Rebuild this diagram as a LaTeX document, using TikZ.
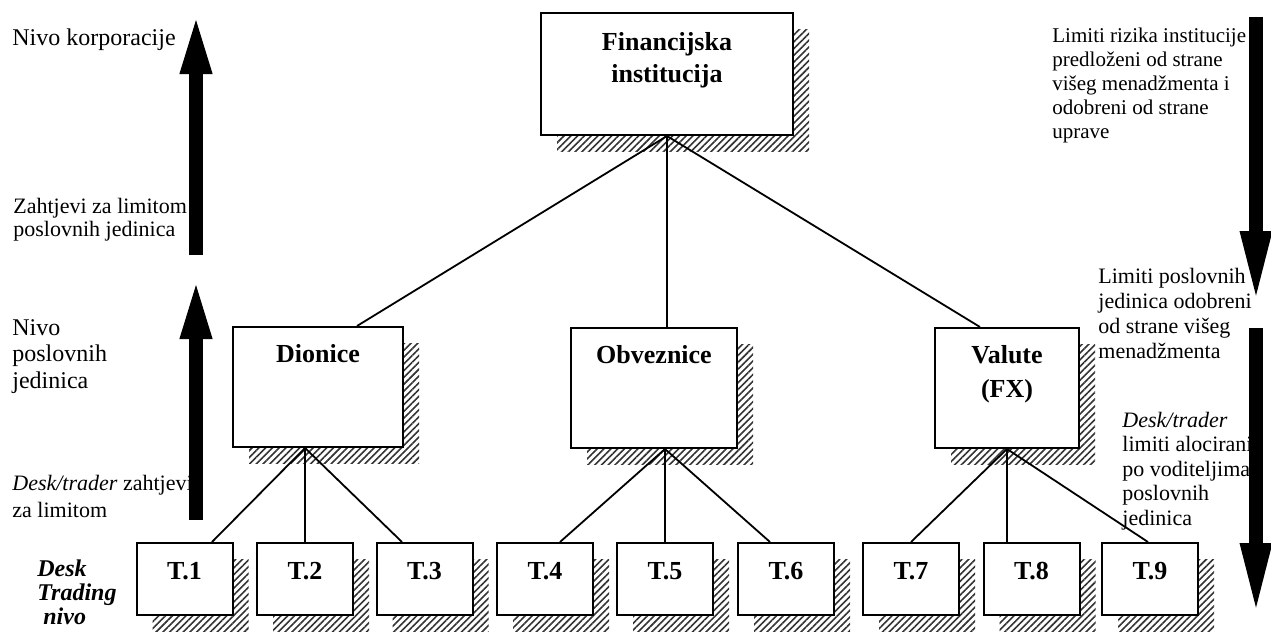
\documentclass[tikz,border=0pt]{standalone}
\usepackage{fontspec}
\setmainfont{Liberation Serif}
\usetikzlibrary{arrows.meta, shadows, patterns.meta}
\tikzset{
  every picture/.style={x=0.5pt, y=-0.5pt},
  hatched/.style={general shadow={shadow xshift=8pt, shadow yshift=-8pt,
      pattern={Lines[angle=45, distance=2.4pt, line width=0.8pt]}, pattern color=black!80}},
  box/.style={draw, fill=white, line width=1pt, hatched, align=center, inner sep=0pt,
      font=\bfseries\fontsize{13}{16.5}\selectfont, text height=17.5pt, text depth=42.5pt},
  desk/.style={box, minimum width=48pt, text height=18pt, text depth=18pt},
  link/.style={line width=0.9pt},
  bigup/.style={line width=7pt, -{Triangle[length=31pt, width=14pt]}},
  bigdown/.style={line width=7pt, -{Triangle[length=37pt, width=14pt]}},
  side/.style={anchor=base west, align=left, inner sep=0pt, font=\fontsize{11}{13}\selectfont},
}

\begin{document}
\begin{tikzpicture}
  \useasboundingbox (0,0) rectangle (1271,632);
  % organisation levels
  \node[box, minimum width=126pt, font=\bfseries\fontsize{13}{16}\selectfont, text height=34.5pt, text depth=26.5pt] (fin) at (667,74) {Financijska\\institucija};
  \node[box, minimum width=85pt] (dion) at (318,387) {Dionice};
  \node[box, minimum width=83pt] (obv) at (654,388) {Obveznice};
  \node[box, minimum width=72pt, font=\bfseries\fontsize{13}{17}\selectfont, text height=34.5pt, text depth=25.5pt] (val) at (1007,388) {Valute\\(FX)};
  \node[desk] (t1) at (184.5,579) {T.1};
  \node[desk] (t2) at (305,579) {T.2};
  \node[desk] (t3) at (424.5,579) {T.3};
  \node[desk] (t4) at (545,579) {T.4};
  \node[desk] (t5) at (665,579) {T.5};
  \node[desk] (t6) at (786,579) {T.6};
  \node[desk] (t7) at (911,579) {T.7};
  \node[desk] (t8) at (1031.5,579) {T.8};
  \node[desk] (t9) at (1150,579) {T.9};
  \draw[link] (fin.south) -- ([xshift=19.5pt]dion.north);
  \draw[link] (fin.south) -- (fin.south |- obv.north);
  \draw[link] (fin.south) -- ([xshift=-13.5pt]val.north);
  \draw[link] (dion.south -| t2.north) -- ([xshift=13.75pt]t1.north);
  \draw[link] (dion.south -| t2.north) -- (t2.north);
  \draw[link] (dion.south -| t2.north) -- ([xshift=-11.25pt]t3.north);
  \draw[link] (obv.south -| t5.north) -- ([xshift=7.5pt]t4.north);
  \draw[link] (obv.south -| t5.north) -- (t5.north);
  \draw[link] (obv.south -| t5.north) -- ([xshift=-8pt]t6.north);
  \draw[link] (val.south) -- (t7.north);
  \draw[link] (val.south) -- (val.south |- t8.north);
  \draw[link] (val.south) -- ([xshift=-1pt]t9.north);
  % left side: requests going up (anchored at the last line)
  \node[side, font=\fontsize{12}{13}\selectfont] (corp) at (12,45) {Nivo korporacije};
  \node[side, font=\fontsize{11}{11.5}\selectfont] (zaht) at (13,236) {Zahtjevi za limitom\\poslovnih jedinica};
  \node[side, font=\fontsize{12}{13.25}\selectfont] (nivo) at (12,388) {Nivo\\poslovnih\\jedinica};
  \node[side, font=\fontsize{11}{13.5}\selectfont] (dtz) at (12,517) {\textit{Desk/trader} zahtjevi\\za limitom};
  \node[side, font=\bfseries\itshape\fontsize{12}{12}\selectfont] (dtn) at (37,624) {Desk\\Trading\\\hspace*{3pt}nivo};
  \coordinate (up1s) at (196,255);
  \coordinate (up1e) at (196,12);
  \coordinate (up2s) at (196,520);
  \coordinate (up2e) at (196,277);
  \draw[bigup] (up1s) -- (up1e);
  \draw[bigup] (up2s) -- (up2e);
  % right side: limits going down
  \node[side, font=\fontsize{10.5}{12}\selectfont] (inst) at (1052,138) {Limiti rizika institucije\\predloženi od strane\\višeg menadžmenta i\\odobreni od strane\\uprave};
  \node[side, font=\fontsize{11}{12.5}\selectfont] (posl) at (1098,358) {Limiti poslovnih\\jedinica odobreni\\od strane višeg\\menadžmenta};
  \node[side, font=\fontsize{11}{12.25}\selectfont] (alok) at (1122,525) {\textit{Desk/trader}\\limiti alocirani\\po voditeljima\\poslovnih\\jedinica};
  \coordinate (dn1s) at (1256,17);
  \coordinate (dn1e) at (1256,305);
  \coordinate (dn2s) at (1256,328);
  \coordinate (dn2e) at (1256,617);
  \draw[bigdown] (dn1s) -- (dn1e);
  \draw[bigdown] (dn2s) -- (dn2e);
\end{tikzpicture}
\end{document}
